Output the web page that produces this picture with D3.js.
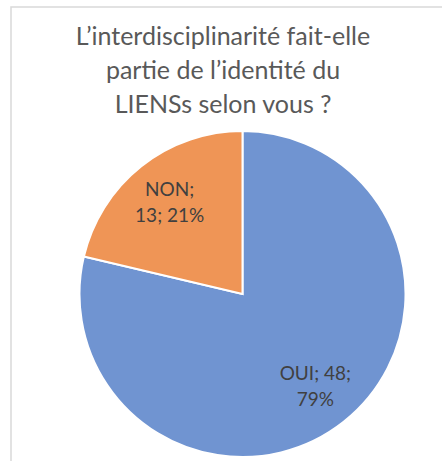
<!DOCTYPE html>
<html>
<head>
  <meta charset="utf-8">
  <title>Interdisciplinarité LIENSs</title>
  <script src="https://cdn.jsdelivr.net/npm/d3@7"></script>
  <style>
    body { margin: 0; background: #fff; }
    svg { display: block; }
  </style>
</head>
<body>
<script>
  // data
  var categories = ["OUI", "NON"];
  var counts = [48, 13];
  var sliceColors = ["#7094d1", "#ef9556"];
  var titleLines = [
    "L\u2019interdisciplinarité fait-elle",
    "partie de l\u2019identité du",
    "LIENSs selon vous ?"
  ];

  var width = 442, height = 461;
  var svg = d3.select("body").append("svg")
      .attr("width", width)
      .attr("height", height);

  // chart frame (only top and left edges are visible in the crop)
  svg.append("path")
      .attr("d", "M11,461 L11,7 L442,7")
      .attr("fill", "none")
      .attr("stroke", "#d9d9d9")
      .attr("stroke-width", 1.5);

  // title
  svg.append("g").selectAll("text")
    .data(titleLines)
    .enter()
    .append("text")
      .attr("x", 223)
      .attr("y", function (d, i) { return 45 + i * 34; })
      .attr("text-anchor", "middle")
      .style("font-family", "Lato, 'Open Sans', sans-serif")
      .style("font-size", "25px")
      .attr("fill", "#595959")
      .text(function (d) { return d; });

  var data = categories.map(function (c, i) {
    return { name: c, value: counts[i], color: sliceColors[i] };
  });
  var total = d3.sum(counts);

  var radius = 163;
  var g = svg.append("g").attr("transform", "translate(242.5,294)");

  var pie = d3.pie().sort(null).value(function (d) { return d.value; });
  var arc = d3.arc().innerRadius(0).outerRadius(radius);
  var labelArc = d3.arc().innerRadius(radius * 0.72).outerRadius(radius * 0.72);

  var arcs = pie(data);

  g.selectAll("path")
    .data(arcs)
    .enter()
    .append("path")
      .attr("d", arc)
      .attr("fill", function (d) { return d.data.color; })
      .attr("stroke", "#fff")
      .attr("stroke-width", 2);

  // labels: "NAME; value; pct" wrapped on two lines like Excel does
  var labelLines = function (d) {
    var pct = Math.round(d.data.value / total * 100) + "%";
    if (d.data.name === "OUI") {
      return [d.data.name + "; " + d.data.value + ";", pct];
    }
    return [d.data.name + ";", d.data.value + "; " + pct];
  };

  var labels = g.selectAll("text.lbl")
    .data(arcs)
    .enter()
    .append("text")
      .attr("class", "lbl")
      .attr("transform", function (d) { return "translate(" + labelArc.centroid(d) + ")"; })
      .attr("text-anchor", "middle")
      .style("font-family", "Lato, 'Open Sans', sans-serif")
      .style("font-size", "19px")
      .attr("fill", "#404040");

  labels.selectAll("tspan")
    .data(function (d) { return labelLines(d); })
    .enter()
    .append("tspan")
      .attr("x", 0)
      .attr("y", function (d, i) { return -6 + i * 26; })
      .text(function (d) { return d; });
</script>
</body>
</html>
